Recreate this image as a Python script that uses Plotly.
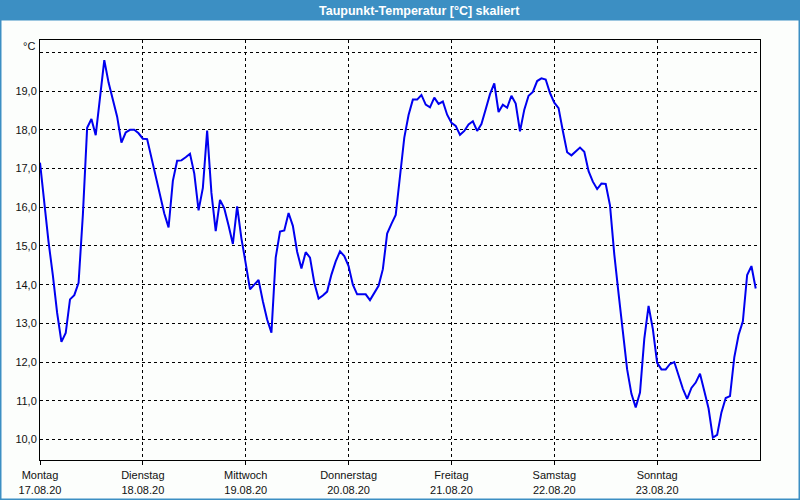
import plotly.graph_objects as go
import pandas as pd

# ---- data: hourly dew point (°C), 17.08.20 00:00 .. 23.08.20 23:00 ----
start = "2020-08-17 00:00"
dewpoint = [
    17.15, 16.04, 15.10, 14.24, 13.27, 12.52, 12.75, 13.62, 13.73, 14.05,
    15.80, 18.05, 18.28, 17.86, 18.90, 19.80, 19.22, 18.81, 18.34, 17.67,
    17.93, 18.00, 18.00, 17.91, 17.77, 17.76, 17.28, 16.72, 16.28, 15.84,
    15.48, 16.68, 17.20, 17.21, 17.29, 17.38, 16.87, 15.92, 16.50, 17.98,
    16.37, 15.38, 16.19, 15.97, 15.53, 15.05, 16.02, 15.19, 14.55, 13.88,
    14.00, 14.12, 13.57, 13.10, 12.76, 14.70, 15.37, 15.40, 15.85, 15.52,
    14.85, 14.42, 14.84, 14.70, 14.05, 13.64, 13.72, 13.82, 14.26, 14.60,
    14.86, 14.74, 14.48, 14.00, 13.75, 13.75, 13.75, 13.60, 13.78, 13.97,
    14.40, 15.32, 15.57, 15.80, 16.80, 17.80, 18.38, 18.78, 18.78, 18.90,
    18.65, 18.58, 18.83, 18.67, 18.73, 18.39, 18.18, 18.10, 17.87, 17.97,
    18.14, 18.22, 17.97, 18.15, 18.53, 18.92, 19.20, 18.46, 18.65, 18.57,
    18.88, 18.68, 17.96, 18.52, 18.88, 18.98, 19.26, 19.33, 19.30, 18.95,
    18.70, 18.56, 17.97, 17.42, 17.34, 17.44, 17.54, 17.43, 16.93, 16.66,
    16.47, 16.61, 16.60, 16.05, 14.78, 13.77, 12.75, 11.81, 11.18, 10.83,
    11.21, 12.60, 13.45, 12.85, 11.98, 11.81, 11.81, 11.95, 12.00, 11.67,
    11.31, 11.05, 11.33, 11.47, 11.70, 11.25, 10.80, 10.05, 10.12, 10.70,
    11.07, 11.12, 12.12, 12.70, 13.05, 14.25, 14.48, 13.90,
]
times = pd.date_range(start, periods=len(dewpoint), freq="h")

day_names = ["Montag", "Dienstag", "Mittwoch", "Donnerstag", "Freitag", "Samstag", "Sonntag"]
day_dates = ["17.08.20", "18.08.20", "19.08.20", "20.08.20", "21.08.20", "22.08.20", "23.08.20"]
day_ticks = pd.date_range(start, periods=7, freq="D")

y_ticks = [10, 11, 12, 13, 14, 15, 16, 17, 18, 19, 20]
y_labels = ["10,0", "11,0", "12,0", "13,0", "14,0", "15,0", "16,0", "17,0", "18,0", "19,0", ""]

title = "Taupunkt-Temperatur [°C] skaliert"
unit = "°C"

# ---- layout constants ----
W, H = 800, 500
ML, MR, MT, MB = 40, 40, 40, 40
PW, PH = W - ML - MR, H - MT - MB
BAR = "#3c8fc3"
FONT = "Liberation Sans"


def px_x(p):
    return (p - ML) / PW


def px_y(p):
    return 1 + (MT - p) / PH


fig = go.Figure()
fig.add_trace(go.Scatter(
    x=times, y=dewpoint, mode="lines",
    line=dict(color="#0000f0", width=2),
    hoverinfo="skip", showlegend=False,
))

fig.update_layout(
    width=W, height=H,
    margin=dict(l=ML, r=MR, t=MT, b=MB, autoexpand=False),
    paper_bgcolor="#fcfefc",
    plot_bgcolor="#fcfefc",
    font=dict(family=FONT, size=11, color="#111111"),
    showlegend=False,
    shapes=[
        dict(type="rect", xref="paper", yref="paper",
             x0=px_x(0), x1=px_x(W), y0=px_y(20.5), y1=px_y(0),
             fillcolor=BAR, line=dict(width=0), layer="above"),
        dict(type="rect", xref="paper", yref="paper",
             x0=px_x(0), x1=px_x(W), y0=px_y(H), y1=px_y(0),
             fillcolor="rgba(0,0,0,0)", line=dict(color=BAR, width=3), layer="above"),
    ],
    annotations=[
        dict(text="<b>" + title + "</b>", xref="paper", yref="paper",
             x=px_x(419), y=px_y(10.5), xanchor="center", yanchor="middle",
             showarrow=False, font=dict(family=FONT, size=12.5, color="white")),
        dict(text=unit, xref="paper", yref="paper",
             x=px_x(37), y=px_y(46), xanchor="right", yanchor="middle",
             showarrow=False, font=dict(family=FONT, size=11, color="#111111")),
    ],
)

fig.update_xaxes(
    range=[pd.Timestamp(start), pd.Timestamp(start) + pd.Timedelta(days=7)],
    tickmode="array",
    tickvals=day_ticks,
    ticktext=[f"{n}<br>{d}" for n, d in zip(day_names, day_dates)],
    showgrid=True, gridcolor="black", gridwidth=1, griddash="3px,3px",
    showline=True, linecolor="black", linewidth=1, mirror=True,
    ticks="outside", ticklen=4, tickcolor="black", tickwidth=1,
    ticklabelstandoff=1,
    zeroline=False, fixedrange=True,
    tickfont=dict(family=FONT, size=11, color="#111111"),
)
fig.update_yaxes(
    range=[9.47, 20.32],
    tickmode="array", tickvals=y_ticks, ticktext=y_labels,
    showgrid=True, gridcolor="black", gridwidth=1, griddash="3px,3px",
    showline=True, linecolor="black", linewidth=1, mirror=True,
    ticks="", zeroline=False, fixedrange=True,
    tickfont=dict(family=FONT, size=11, color="#111111"),
)

fig.write_html(
    "out.html",
    config={"displayModeBar": False},
    post_script="document.body.style.margin='0';document.body.style.overflow='hidden';",
)
